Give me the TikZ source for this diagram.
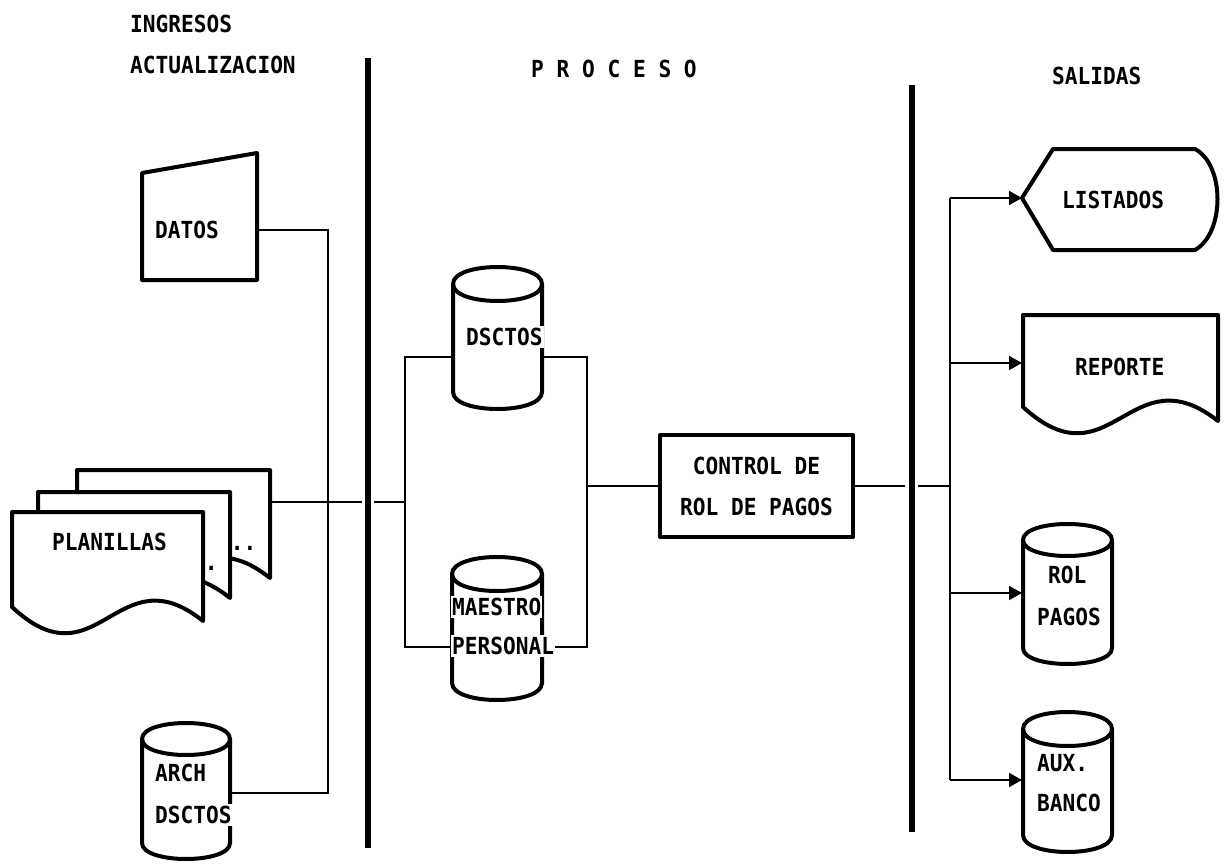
\documentclass[tikz,border=0pt]{standalone}
\usepackage{fontspec}
\newfontfamily\plotfont{DejaVu Sans Mono}[FakeStretch=0.9]
\usetikzlibrary{arrows.meta}
% document (wavy bottom) outline: left, top, right, left-bottom y
\newcommand\docshape[4]{\draw[shp] (#1,#2) -- (#3,#2) -- (#3,{#4+14}) .. controls ({#1+0.55*(#3-#1)},{#4-55}) and ({#1+0.45*(#3-#1)},{#4+80}) .. (#1,#4) -- cycle;}
% cylinder outline: left, right, top centre y, bottom centre y, y radius
\newcommand\cylshape[5]{%
  \draw[shp] (#1,#3) -- (#1,#4) .. controls (#1,{#4+1.333*#5}) and (#2,{#4+1.333*#5}) .. (#2,#4) -- (#2,#3) .. controls (#2,{#3-1.333*#5}) and (#1,{#3-1.333*#5}) .. cycle;
  \draw[shp,fill=none] (#1,#3) .. controls (#1,{#3+1.333*#5}) and (#2,{#3+1.333*#5}) .. (#2,#3);}
\begin{document}
\begin{tikzpicture}[x=1bp,y=-1bp,
  lbl/.style={font=\plotfont\bfseries\fontsize{23.5bp}{26bp}\selectfont, inner sep=0pt, anchor=west},
  cyllbl/.style={lbl, fill=white, inner xsep=1bp, inner ysep=2bp},
  dots/.style={font=\plotfont\bfseries\fontsize{23.5bp}{26bp}\selectfont, inner sep=0pt, anchor=base west},
  conn/.style={line width=1.8bp},
  arr/.style={conn, -{Triangle[length=13bp,width=14bp]}},
  shp/.style={line width=4bp, line join=round, fill=white},
  bar/.style={line width=6bp},
  procbox/.style={shp, draw, minimum width=193bp, minimum height=102bp, inner sep=0pt, align=center,
    font=\plotfont\bfseries\fontsize{23.5bp}{41bp}\selectfont}]
\useasboundingbox (0,0) rectangle (1225,865);

% ---------- titles ----------
\node[lbl] (t-ingresos) at (130,24) {INGRESOS};
\node[lbl] (t-actual) at (130,65) {ACTUALIZACION};
\node[lbl] (t-proceso) at (531,69) {P R O C E S O};
\node[lbl] (t-salidas) at (1052,76) {SALIDAS};

% ---------- separator bars ----------
\coordinate (barL-top) at (368,58);
\coordinate (barL-bot) at (368,848);
\coordinate (barR-top) at (912,85);
\coordinate (barR-bot) at (912,832);
\draw[bar] (barL-top) -- (barL-bot);
\draw[bar] (barR-top) -- (barR-bot);

% ---------- ports and junctions ----------
\coordinate (datos-e) at (257,230);
\coordinate (arch-e) at (230,793);
\coordinate (busL) at (328,230);
\coordinate (plan-e) at (270,502);
\coordinate (gapL-a) at (362,502);
\coordinate (gapL-b) at (374,502);
\coordinate (inj) at (405,502);
\coordinate (dsctos-w) at (453,357);
\coordinate (dsctos-e) at (542,357);
\coordinate (maestro-w) at (452,647);
\coordinate (maestro-e) at (542,647);
\coordinate (outj) at (587,486);
\coordinate (gapR-a) at (905,486);
\coordinate (gapR-b) at (918,486);
\coordinate (sj) at (950,486);
\coordinate (listados-w) at (1022,198);
\coordinate (reporte-w) at (1022,363);
\coordinate (rolpagos-w) at (1022,593);
\coordinate (auxbanco-w) at (1022,780);

% ---------- process box ----------
\node[procbox] (control) at (756.5,486) {CONTROL DE\\ROL DE PAGOS};

% ---------- connectors ----------
\draw[conn] (datos-e) -- (busL) |- (arch-e);
\draw[conn] (plan-e) -- (gapL-a);
\draw[conn] (gapL-b) -- (inj);
\draw[conn] (dsctos-w) -| (inj) |- (maestro-w);
\draw[conn] (dsctos-e) -| (outj) |- (maestro-e);
\draw[conn] (outj) -- (control.west);
\draw[conn] (control.east) -- (gapR-a);
\draw[conn] (gapR-b) -- (sj);
\draw[conn] (sj |- listados-w) -- (sj |- auxbanco-w);
\draw[arr] (sj |- listados-w) -- (listados-w);
\draw[arr] (sj |- reporte-w) -- (reporte-w);
\draw[arr] (sj |- rolpagos-w) -- (rolpagos-w);
\draw[arr] (sj |- auxbanco-w) -- (auxbanco-w);

% ---------- inputs ----------
\draw[shp] (142,173) -- (257,153) -- (257,280) -- (142,280) -- cycle;
\node[lbl] (datos) at (155,230) {DATOS};

\docshape{77}{470}{270}{564}
\node[dots] (dots-back) at (230.7,550) {..};
\docshape{38}{492}{230}{584}
\node[dots] (dots-mid) at (204.7,570) {.};
\docshape{12}{512}{203}{607}
\node[lbl] (planillas) at (52,542) {PLANILLAS};

\cylshape{142}{230}{739}{843}{16}
\node[cyllbl] (arch) at (154,773) {ARCH};
\node[cyllbl] (archb) at (154,815) {DSCTOS};

% ---------- process files ----------
\cylshape{453}{542}{284}{392}{17}
\node[cyllbl] (dsctos) at (465,337) {DSCTOS};
\cylshape{452}{542}{574}{683}{17}
\node[cyllbl] (maestro) at (451,607) {MAESTRO};
\node[cyllbl] (personal) at (451,646) {PERSONAL};

% ---------- outputs ----------
\draw[shp] (listados-w) -- (1053,149) -- (1195,149) .. controls (1225,165) and (1225,233) .. (1195,250) -- (1053,250) -- cycle;
\node[lbl] (listados) at (1062,200) {LISTADOS};

\docshape{1023}{315}{1218}{407}
\node[lbl] (reporte) at (1075,367) {REPORTE};

\cylshape{1023}{1112}{540}{648}{16}
\node[cyllbl] (rol) at (1047,575) {ROL};
\node[cyllbl] (pagos) at (1036,617) {PAGOS};

\cylshape{1023}{1112}{729}{835}{17}
\node[cyllbl] (aux) at (1036,763) {AUX.};
\node[cyllbl] (banco) at (1036,803) {BANCO};
\end{tikzpicture}
\end{document}
